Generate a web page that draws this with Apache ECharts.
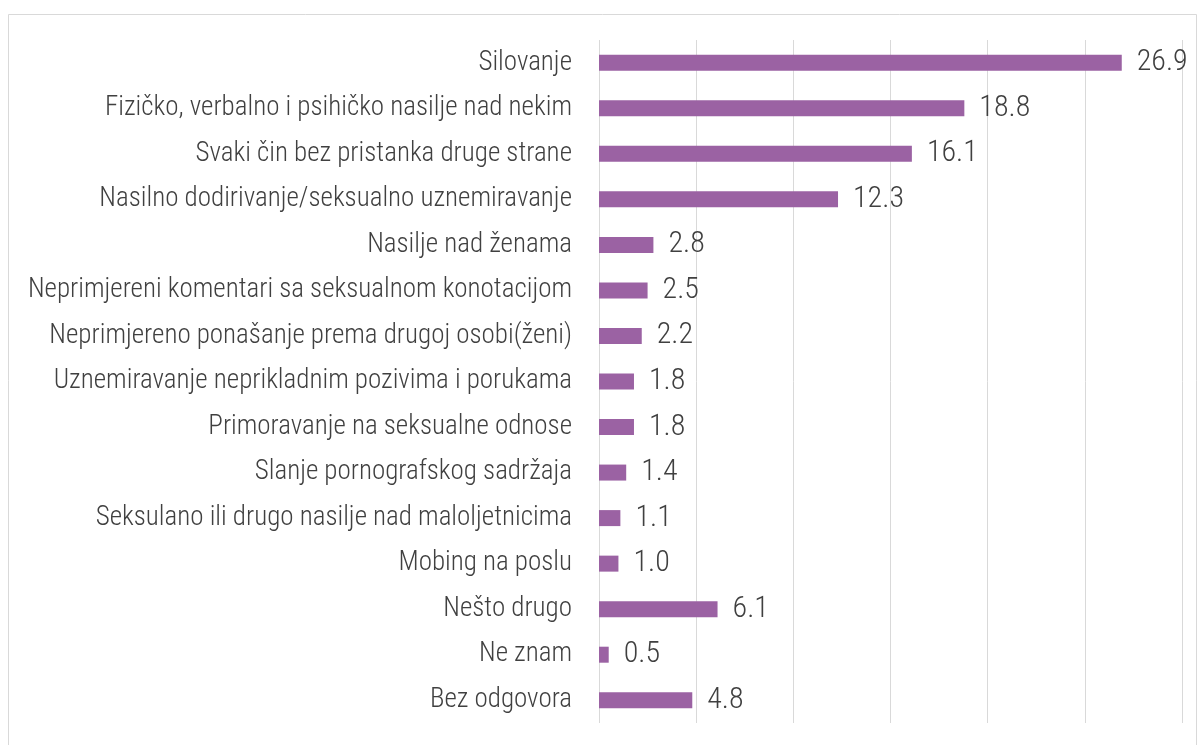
<!DOCTYPE html>
<html><head><meta charset="utf-8">
<script src="https://cdn.jsdelivr.net/npm/echarts@6/dist/echarts.min.js"></script>
<style>html,body{margin:0;padding:0;background:#fff}#c{width:1200px;height:745px}</style>
</head><body><div id="c"></div>
<script>
const categories = [
  "Silovanje",
  "Fizičko, verbalno i psihičko nasilje nad nekim",
  "Svaki čin bez pristanka druge strane",
  "Nasilno dodirivanje/seksualno uznemiravanje",
  "Nasilje nad ženama",
  "Neprimjereni komentari sa seksualnom konotacijom",
  "Neprimjereno ponašanje prema drugoj osobi(ženi)",
  "Uznemiravanje neprikladnim pozivima i porukama",
  "Primoravanje na seksualne odnose",
  "Slanje pornografskog sadržaja",
  "Seksulano ili drugo nasilje nad maloljetnicima",
  "Mobing na poslu",
  "Nešto drugo",
  "Ne znam",
  "Bez odgovora"
];
const values = [26.9, 18.8, 16.1, 12.3, 2.8, 2.5, 2.2, 1.8, 1.8, 1.4, 1.1, 1.0, 6.1, 0.5, 4.8];
const xTicks = [0, 5, 10, 15, 20, 25, 30];

const FONT = '"Roboto Condensed", "Liberation Sans Narrow", sans-serif';
const chart = echarts.init(document.getElementById('c'), null, {renderer: 'canvas'});
chart.setOption({
  animation: false,
  backgroundColor: '#fff',
  graphic: [{
    type: 'rect', left: 6, top: 12, z: -1,
    shape: {width: 1188, height: 745},
    style: {fill: 'none', stroke: '#d9d9d9', lineWidth: 1}
  }],
  grid: {left: 599, right: 18, top: 40, bottom: 22, containLabel: false},
  xAxis: {
    type: 'value', min: xTicks[0], max: xTicks[xTicks.length - 1], interval: 5,
    axisLabel: {show: false}, axisLine: {show: false}, axisTick: {show: false},
    splitLine: {show: true, lineStyle: {color: '#d9d9d9', width: 1}}
  },
  yAxis: {
    type: 'category', data: categories, inverse: true,
    axisLine: {show: false}, axisTick: {show: false},
    axisLabel: {color: '#404040', fontSize: 27, fontWeight: 300, fontFamily: FONT, margin: 27}
  },
  series: [{
    type: 'bar', data: values, barWidth: 16,
    itemStyle: {color: '#9b62a3'},
    label: {
      show: true, position: 'right', distance: 15,
      color: '#404040', fontSize: 30, fontWeight: 300, fontFamily: FONT,
      formatter: p => p.value.toFixed(1)
    }
  }]
});
</script></body></html>
